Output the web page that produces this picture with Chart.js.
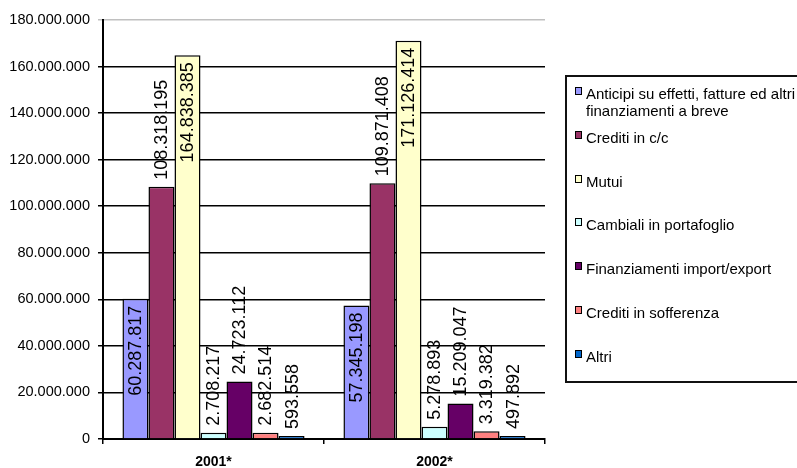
<!DOCTYPE html>
<html>
<head>
<meta charset="utf-8">
<script src="https://cdn.jsdelivr.net/npm/chart.js@4/dist/chart.umd.min.js"></script>
<style>
  body { margin: 0; background: #fff; overflow: hidden; }
  #wrap { position: relative; width: 797px; height: 468px; overflow: hidden; }
  #legenda {
    position: absolute; left: 565px; top: 75px; width: 250px; height: 308px;
    border: 2px solid #111; box-sizing: border-box;
    font-family: "Liberation Sans", Arial, sans-serif; font-size: 15px; color: #000;
    padding-top: 8px;
  }
  .voce { position: relative; height: 43.8px; }
  .voce span.box {
    position: absolute; left: 8px; top: 2px; width: 5px; height: 6px;
    border: 1.5px solid #000;
  }
  .voce span.txt { position: absolute; left: 19px; top: 0; width: 214px; line-height: 17px; }
</style>
</head>
<body>
<div id="wrap">
  <canvas id="grafico" width="797" height="468"></canvas>
  <div id="legenda"></div>
</div>
<script>
const anni = ["2001*", "2002*"];

const voci = [
  "Anticipi su effetti, fatture ed altri finanziamenti a breve",
  "Crediti in c/c",
  "Mutui",
  "Cambiali in portafoglio",
  "Finanziamenti import/export",
  "Crediti in sofferenza",
  "Altri"
];

const anticipi = [60287817, 57345198];
const creditiCC = [108318195, 109871408];
const mutui = [164838385, 171126414];
const cambiali = [2708217, 5278893];
const finImpExp = [24723112, 15209047];
const sofferenze = [2682514, 3319382];
const altri = [593558, 497892];

const colori = ["#9999FF", "#993366", "#FFFFCC", "#CCFFFF", "#660066", "#FF8080", "#0066CC"];
// etichette dentro la barra (come nell'originale) o sopra
const etichettaDentro = [true, false, true, false, false, false, false];

const yTicks = [0, 20000000, 40000000, 60000000, 80000000, 100000000, 120000000, 140000000, 160000000, 180000000];

function formatta(v) {
  return String(v).replace(/\B(?=(\d{3})+(?!\d))/g, ".");
}

const serie = [anticipi, creditiCC, mutui, cambiali, finImpExp, sofferenze, altri];

// legenda html
const leg = document.getElementById("legenda");
voci.forEach((v, i) => {
  const d = document.createElement("div");
  d.className = "voce";
  d.innerHTML = '<span class="box" style="background:' + colori[i] + '"></span><span class="txt">' + v + '</span>';
  leg.appendChild(d);
});

const etichettePlugin = {
  id: "etichette",
  afterDatasetsDraw(chart) {
    const c = chart.ctx;
    c.save();
    c.font = '18px "Liberation Sans", Arial, sans-serif';
    c.fillStyle = "#000";
    c.textBaseline = "middle";
    chart.data.datasets.forEach((ds, i) => {
      const meta = chart.getDatasetMeta(i);
      meta.data.forEach((bar, j) => {
        c.save();
        c.translate(bar.x, bar.y);
        c.rotate(-Math.PI / 2);
        if (etichettaDentro[i]) {
          c.textAlign = "right";
          c.fillText(formatta(ds.data[j]), -7, 1);
        } else {
          c.textAlign = "left";
          c.fillText(formatta(ds.data[j]), 7, 1);
        }
        c.restore();
      });
    });
    c.restore();
  }
};

new Chart(document.getElementById("grafico"), {
  type: "bar",
  data: {
    labels: anni,
    datasets: serie.map((s, i) => ({
      label: voci[i],
      data: s,
      backgroundColor: colori[i],
      borderColor: "#000",
      borderWidth: 1.5,
      minBarLength: 3,
      categoryPercentage: 0.824,
      barPercentage: 1.0
    }))
  },
  options: {
    responsive: false,
    animation: false,
    layout: { padding: { top: 20, right: 252, left: 0, bottom: 0 } },
    plugins: {
      legend: { display: false },
      tooltip: { enabled: false }
    },
    scales: {
      x: {
        grid: { display: true, drawOnChartArea: false, offset: true, tickLength: 5, color: "#000", lineWidth: 1.5 },
        border: { color: "#000", width: 2 },
        ticks: {
          color: "#000",
          padding: 10,
          font: { family: '"Liberation Sans", Arial, sans-serif', size: 14, weight: "bold" }
        },
        afterFit(scale) { scale.height = 29; }
      },
      y: {
        min: 0,
        max: 180000000,
        afterBuildTicks(scale) { scale.ticks = yTicks.map(v => ({ value: v })); },
        grid: {
          color: ctx => (ctx.index === yTicks.length - 1 ? "#c0c0c0" : "#000"),
          lineWidth: 1.5,
          tickLength: 5
        },
        border: { color: "#000", width: 2 },
        ticks: {
          color: "#000",
          padding: 8,
          font: { family: '"Liberation Sans", Arial, sans-serif', size: 14.5 },
          callback: v => formatta(v)
        },
        afterFit(scale) { scale.width = 103; }
      }
    }
  },
  plugins: [etichettePlugin]
});
</script>
</body>
</html>
